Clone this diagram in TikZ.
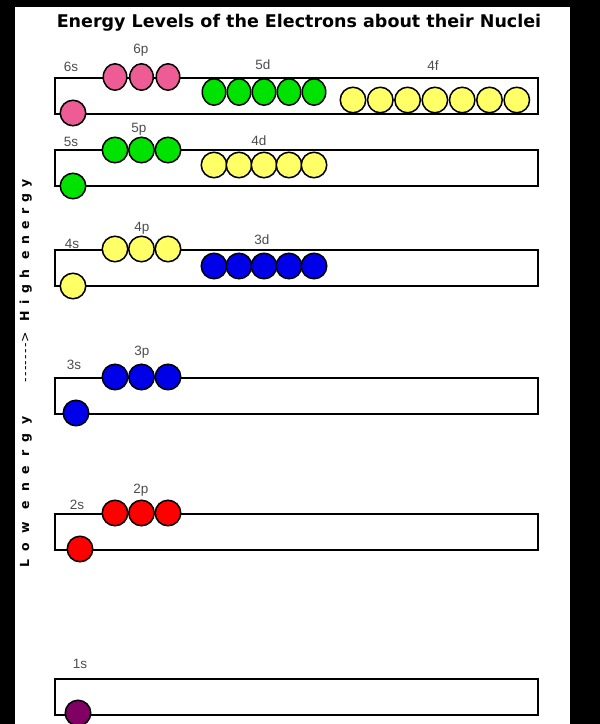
\documentclass[tikz,border=0pt]{standalone}
\usepackage{fontspec}
\setmainfont{Liberation Sans}
\newfontfamily\headfont{DejaVu Sans}
\usetikzlibrary{shapes.geometric, positioning}

\definecolor{orbpink}{RGB}{238,92,150}
\definecolor{orbgreen}{RGB}{0,226,0}
\definecolor{orbyellow}{RGB}{255,255,102}
\definecolor{orbblue}{RGB}{0,0,232}
\definecolor{orbred}{RGB}{255,0,0}
\definecolor{orbpurple}{RGB}{128,0,100}

\begin{document}
\begin{tikzpicture}[
    x=1pt, y=-1pt,
    shell/.style={draw, line width=2pt, minimum width=483pt, minimum height=36pt, inner sep=0pt, anchor=north west},
    orb/.style={circle, draw, line width=1.5pt, minimum size=25.5pt, inner sep=0pt},
    egg/.style={ellipse, draw, line width=1.5pt, minimum width=23.5pt, minimum height=26.5pt, inner sep=0pt},
    lbl/.style={font=\fontsize{13.5}{13.5}\selectfont, text=black!70, inner sep=0pt, text height=9.6pt, text depth=0pt},
    side/.style={rotate=90, inner sep=0pt, text height=9pt, text depth=2.8pt,
      font=\headfont\bfseries\fontsize{12.5}{12.5}\selectfont}
  ]
  \useasboundingbox (0,0) rectangle (600,724);
  \fill[white] (0,0) rectangle (600,724);
  % Bordi neri
  \fill (0,0) rectangle (15,724);
  \fill (0,0) rectangle (600,7);
  \fill (570,0) rectangle (600,724);

  % Titolo
  \node[font=\headfont\bfseries\fontsize{17.5}{17.5}\selectfont, inner sep=0pt, text height=12.7pt, text depth=0pt]
    (title) at (299,21) {Energy Levels of the Electrons about their Nuclei};

  % Scala di energia
  \node[side] (low) at (26,492) {\addfontfeatures{LetterSpace=70}Low energy};
  \node[side, font=\headfont\fontsize{12.5}{12.5}\selectfont] (arrow) at (26,357) {\addfontfeatures{LetterSpace=10}-{}-{}-{}-{}-{}-{}->};
  \node[side] (high) at (26,250) {\addfontfeatures{LetterSpace=50}High energy};

  % Livello 6: 6s 6p 5d 4f
  \node[shell] (b6) at (54,77) {};
  \node[orb, fill=orbpink] (s6) at (73,113) {};
  \foreach \i/\x in {1/115,2/141.5,3/168} \node[egg, fill=orbpink] (p6-\i) at (\x,77) {};
  \foreach \i in {1,...,5} \node[egg, fill=orbgreen] (d5-\i) at ({189+25*\i},92) {};
  \foreach \i in {1,...,7} \node[orb, fill=orbyellow] (f4-\i) at ({325.7+27.3*\i},100) {};
  \node[lbl] (l6s) at (71,67) {6s};
  \node[lbl] (l6p) at (141,49) {6p};
  \node[lbl] (l5d) at (263,65) {5d};
  \node[lbl] (l4f) at (433,66) {4f};

  % Livello 5: 5s 5p 4d
  \node[shell] (b5) at (54,149) {};
  \node[orb, fill=orbgreen] (s5) at (73,186) {};
  \foreach \i/\x in {1/115,2/141.5,3/168} \node[orb, fill=orbgreen] (p5-\i) at (\x,150) {};
  \foreach \i in {1,...,5} \node[orb, fill=orbyellow] (d4-\i) at ({189+25*\i},165) {};
  \node[lbl] (l5s) at (71,142) {5s};
  \node[lbl] (l5p) at (139,128) {5p};
  \node[lbl] (l4d) at (259,141) {4d};

  % Livello 4: 4s 4p 3d
  \node[shell] (b4) at (54,249) {};
  \node[orb, fill=orbyellow] (s4) at (73,286) {};
  \foreach \i/\x in {1/115,2/141.5,3/168} \node[orb, fill=orbyellow] (p4-\i) at (\x,249) {};
  \foreach \i in {1,...,5} \node[orb, fill=orbblue] (d3-\i) at ({189+25*\i},266) {};
  \node[lbl] (l4s) at (72,244) {4s};
  \node[lbl] (l4p) at (142,227) {4p};
  \node[lbl] (l3d) at (262,240) {3d};

  % Livello 3: 3s 3p
  \node[shell] (b3) at (54,377) {};
  \node[orb, fill=orbblue] (s3) at (76,413) {};
  \foreach \i/\x in {1/115,2/141.5,3/168} \node[orb, fill=orbblue] (p3-\i) at (\x,377) {};
  \node[lbl] (l3s) at (74,365) {3s};
  \node[lbl] (l3p) at (142,351) {3p};

  % Livello 2: 2s 2p
  \node[shell] (b2) at (54,513) {};
  \node[orb, fill=orbred] (s2) at (80,549) {};
  \foreach \i/\x in {1/115,2/141.5,3/168} \node[orb, fill=orbred] (p2-\i) at (\x,513) {};
  \node[lbl] (l2s) at (77,505) {2s};
  \node[lbl] (l2p) at (141,489) {2p};

  % Livello 1: 1s
  \node[shell] (b1) at (54,678) {};
  \node[orb, fill=orbpurple] (s1) at (78,713) {};
  \node[lbl] (l1s) at (80,664) {1s};
\end{tikzpicture}
\end{document}
